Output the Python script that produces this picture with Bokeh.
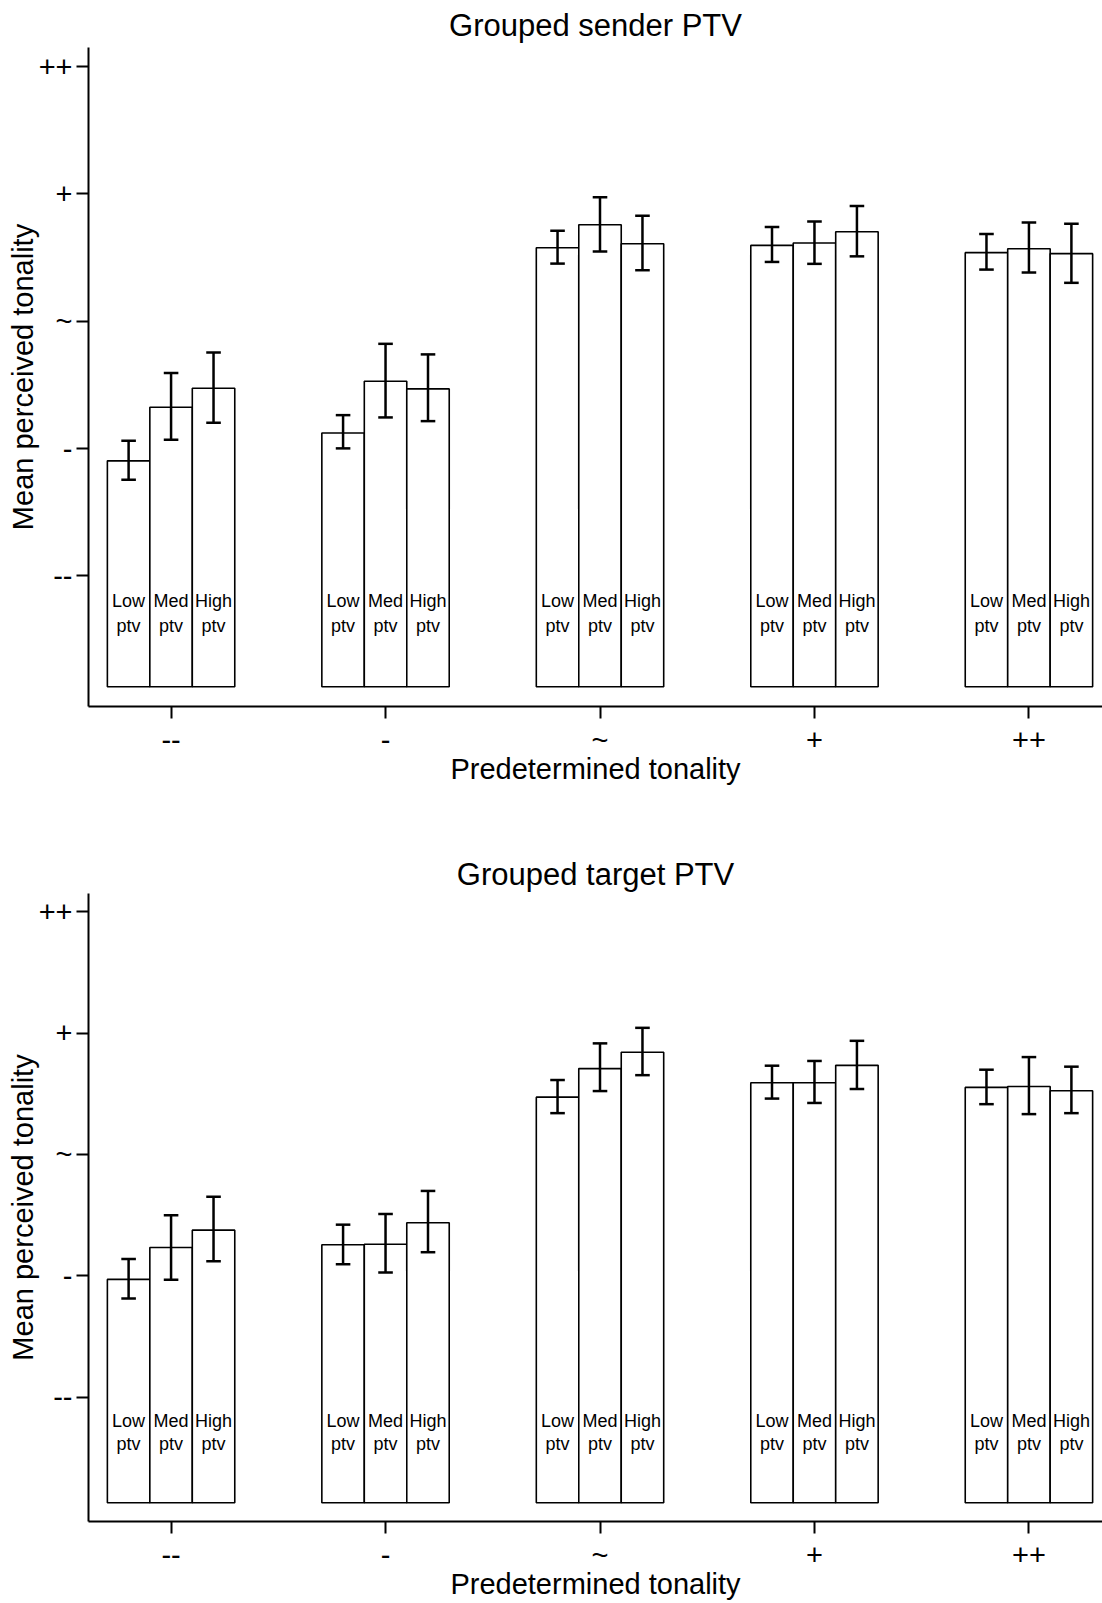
from bokeh.plotting import figure
from bokeh.models import Range1d, FixedTicker, ColumnDataSource
from bokeh.layouts import column
from bokeh.core.properties import value
from bokeh.embed import file_html
from bokeh.resources import INLINE

categories = ["--", "-", "~", "+", "++"]
ptv_groups = ["Low", "Med", "High"]
tonality_ticks = ["--", "-", "~", "+", "++"]

# Grouped sender PTV (means and CI bounds; -- = -2 ... ++ = +2)
sender_low = [-1.096, -0.877, 0.578, 0.596, 0.539]
sender_med = [-0.675, -0.471, 0.758, 0.615, 0.570]
sender_high = [-0.526, -0.531, 0.609, 0.703, 0.531]
sender_low_lo = [-1.245, -0.998, 0.453, 0.466, 0.406]
sender_med_lo = [-0.930, -0.755, 0.549, 0.451, 0.383]
sender_high_lo = [-0.797, -0.784, 0.401, 0.510, 0.302]
sender_low_hi = [-0.938, -0.737, 0.711, 0.740, 0.685]
sender_med_hi = [-0.406, -0.177, 0.974, 0.784, 0.776]
sender_high_hi = [-0.245, -0.260, 0.828, 0.906, 0.766]

# Grouped target PTV
target_low = [-1.030, -0.745, 0.472, 0.591, 0.552]
target_med = [-0.767, -0.740, 0.707, 0.591, 0.560]
target_high = [-0.624, -0.563, 0.842, 0.734, 0.524]
target_low_lo = [-1.187, -0.905, 0.340, 0.460, 0.414]
target_med_lo = [-1.033, -0.974, 0.522, 0.424, 0.332]
target_high_lo = [-0.881, -0.806, 0.653, 0.539, 0.340]
target_low_hi = [-0.861, -0.579, 0.613, 0.731, 0.698]
target_med_hi = [-0.502, -0.491, 0.915, 0.770, 0.802]
target_high_hi = [-0.348, -0.301, 1.043, 0.936, 0.723]

BASE = -2.87
BAR_W = 0.198
CAP = 0.034
FONT = "Liberation Sans"


def make_panel(title, means, los, his, height, top, bottom, title_standoff):
    p = figure(width=1102, height=height, output_backend="svg", toolbar_location=None,
               x_range=Range1d(-0.385, 4.343), y_range=Range1d(-3.025, 2.15),
               min_border_left=88, min_border_right=0, min_border_top=top,
               min_border_bottom=bottom)
    p.title.text = title
    p.title.align = "center"
    p.title.text_font = FONT
    p.title.text_font_size = "31px"
    p.title.text_font_style = "normal"
    p.title.text_color = "black"
    p.title.standoff = title_standoff
    p.outline_line_color = None
    p.xgrid.visible = False
    p.ygrid.visible = False

    for j, (m, lo, hi) in enumerate(zip(means, los, his)):
        xs = [i + (j - 1) * BAR_W for i in range(len(categories))]
        src = ColumnDataSource(dict(x=xs, top=m, lo=lo, hi=hi,
                                    x0=[x - CAP for x in xs], x1=[x + CAP for x in xs],
                                    name=[ptv_groups[j]] * len(xs),
                                    ptv=["ptv"] * len(xs)))
        p.vbar(x="x", top="top", bottom=BASE, width=BAR_W, source=src,
               fill_color="white", line_color="black", line_width=1.6)
        p.segment(x0="x", y0="lo", x1="x", y1="hi", source=src,
                  line_color="black", line_width=2.5)
        p.segment(x0="x0", y0="lo", x1="x1", y1="lo", source=src,
                  line_color="black", line_width=2.5)
        p.segment(x0="x0", y0="hi", x1="x1", y1="hi", source=src,
                  line_color="black", line_width=2.5)
        p.text(x="x", y=-2.2, text="name", source=src, text_align="center",
               text_baseline="middle", text_font=value(FONT), text_font_size="18px",
               text_color="black")
        p.text(x="x", y=-2.39, text="ptv", source=src, text_align="center",
               text_baseline="middle", text_font=value(FONT), text_font_size="18px",
               text_color="black")

    for ax in (p.xaxis[0], p.yaxis[0]):
        ax.axis_line_color = "black"
        ax.axis_line_width = 2
        ax.major_tick_line_color = "black"
        ax.major_tick_line_width = 2
        ax.major_tick_out = 12
        ax.major_tick_in = 0
        ax.minor_tick_line_color = None
        ax.major_label_text_font = FONT
        ax.major_label_text_font_size = "29px"
        ax.major_label_text_color = "black"
        ax.axis_label_text_font = FONT
        ax.axis_label_text_font_size = "29px"
        ax.axis_label_text_font_style = "normal"
        ax.axis_label_text_color = "black"

    p.xaxis.ticker = FixedTicker(ticks=[0, 1, 2, 3, 4])
    p.xaxis.major_label_overrides = {i: t for i, t in enumerate(categories)}
    p.xaxis.major_label_standoff = 5
    p.xaxis.axis_label = "Predetermined tonality"
    p.xaxis.axis_label_standoff = -6
    p.yaxis.ticker = FixedTicker(ticks=[-2, -1, 0, 1, 2])
    p.yaxis.major_label_overrides = {i - 2: t for i, t in enumerate(tonality_ticks)}
    p.yaxis.major_label_standoff = 4
    p.yaxis.axis_label = "Mean perceived tonality"
    p.yaxis.axis_label_standoff = -3
    return p


p1 = make_panel("Grouped sender PTV",
                [sender_low, sender_med, sender_high],
                [sender_low_lo, sender_med_lo, sender_high_lo],
                [sender_low_hi, sender_med_hi, sender_high_hi],
                height=810, top=47, bottom=104, title_standoff=9)
p2 = make_panel("Grouped target PTV",
                [target_low, target_med, target_high],
                [target_low_lo, target_med_lo, target_high_lo],
                [target_low_hi, target_med_hi, target_high_hi],
                height=793, top=83, bottom=82, title_standoff=3)

layout = column(p1, p2, spacing=0)
open("out.html", "w").write(file_html(layout, INLINE))
